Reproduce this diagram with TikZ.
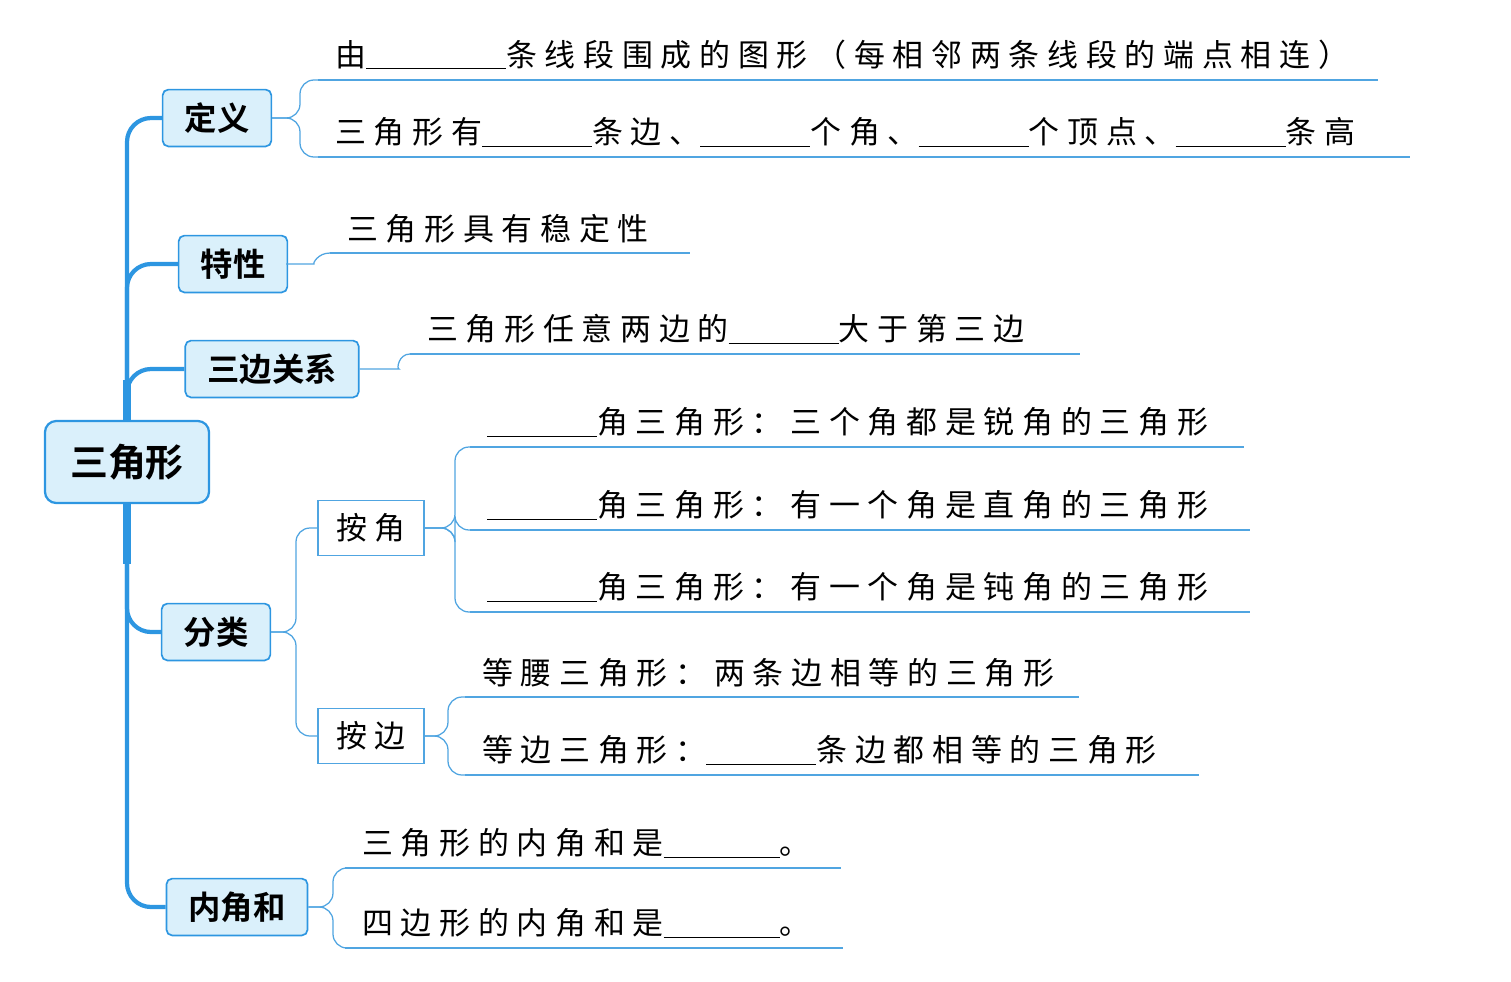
\documentclass[tikz,border=0pt]{standalone}
\usepackage{fontspec}
\newfontfamily\cjk[LetterSpace=25]{Noto Sans CJK SC}
\newfontfamily\cjkb{Noto Sans CJK SC Bold}
\usepackage{tikz}
\definecolor{mblue}{RGB}{45,150,225}
\definecolor{mfill}{RGB}{218,240,251}
\definecolor{lblue}{RGB}{80,165,225}
\newcommand{\blank}[1]{\underline{\hspace{#1}}}
\tikzset{
  root/.style={draw=mblue,fill=mfill,line width=1.6pt,rounded corners=8pt,
    minimum width=4.1cm,minimum height=2.05cm,font=\fontsize{27}{30}\cjkb},
  branch/.style={draw=mblue,fill=mfill,line width=1.2pt,rounded corners=4pt,
    minimum height=1.42cm,inner xsep=0.55cm,font=\fontsize{23}{26}\cjkb},
  sub/.style={draw=lblue,fill=white,line width=0.8pt,
    minimum width=2.65cm,minimum height=1.38cm,font=\fontsize{22}{26}\cjk},
  leaf/.style={anchor=south west,inner xsep=0.42cm,inner ysep=0.25cm,
    align=left,font=\fontsize{22}{26}\cjk},
  trunk/.style={mblue,line width=3pt,rounded corners=0.6cm},
  conn/.style={lblue,line width=0.9pt,rounded corners=0.35cm},
  uline/.style={lblue,line width=0.9pt}
}
\begin{document}
\begin{tikzpicture}[x=0.025cm,y=-0.025cm]
  \useasboundingbox (0,0) rectangle (1511,981);
  % main nodes
  \node[root] (tri) at (127,462) {三角形};
  \node[branch] (def) at (217,118) {定义};
  \node[branch] (prop) at (233,264) {特性};
  \node[branch] (side) at (272,369) {三边关系};
  \node[branch] (cls) at (216,632) {分类};
  \node[branch] (sum) at (237,907) {内角和};
  \node[sub] (byang) at (371,528) {按角};
  \node[sub] (byside) at (371,736) {按边};
  % leaves
  \node[leaf,text width=25.65cm] (d1) at (318,80) {由\blank{3.5cm}条线段围成的图形（每相邻两条线段的端点相连）};
  \node[leaf,text width=26.45cm] (d2) at (318,157) {三角形有\blank{2.75cm}条边、\blank{2.75cm}个角、\blank{2.75cm}个顶点、\blank{2.75cm}条高};
  \node[leaf,text width=8.15cm] (t1) at (330,253) {三角形具有稳定性};
  \node[leaf,text width=15.9cm] (s1) at (410,354) {三角形任意两边的\blank{2.75cm}大于第三边};
  \node[leaf,text width=18.5cm] (a1) at (470,447) {\blank{2.75cm}角三角形：三个角都是锐角的三角形};
  \node[leaf,text width=18.65cm] (a2) at (470,530) {\blank{2.75cm}角三角形：有一个角是直角的三角形};
  \node[leaf,text width=18.65cm] (a3) at (470,612) {\blank{2.75cm}角三角形：有一个角是钝角的三角形};
  \node[leaf,text width=14.5cm] (b1) at (465,697) {等腰三角形：两条边相等的三角形};
  \node[leaf,text width=17.5cm] (b2) at (465,775) {等边三角形：\blank{2.75cm}条边都相等的三角形};
  \node[leaf,text width=11.55cm] (n1) at (345,868) {三角形的内角和是\blank{2.9cm}。};
  \node[leaf,text width=11.6cm] (n2) at (345,948) {四边形的内角和是\blank{2.9cm}。};
  % underlines
  \foreach \l in {d1,d2,t1,s1,a1,a2,a3,b1,b2,n1,n2}
    \draw[uline] (\l.south west) -- (\l.south east);
  % trunk
  \draw[trunk] (tri.north) |- (def.west);
  \draw[trunk] (tri.north) |- (prop.west);
  \draw[trunk] (tri.north) |- (side.west);
  \draw[trunk] (tri.south) |- (cls.west);
  \draw[trunk] (tri.south) |- (sum.west);
  \draw[mblue,line width=6pt] (tri.north) -- ++(0,-40);
  \draw[mblue,line width=6pt] (tri.south) -- ++(0,60);
  % forks
  \coordinate (fd) at (300,118);
  \coordinate (ft) at (300,264);
  \coordinate (fs) at (385,369);
  \coordinate (fc) at (296,632);
  \coordinate (fa) at (455,528);
  \coordinate (fb) at (448,736);
  \coordinate (fn) at (333,907);
  \draw[conn] (def.east) -- (fd) |- (d1.south west);
  \draw[conn] (def.east) -- (fd) |- (d2.south west);
  \draw[conn] (prop.east) -- (ft) to[out=0,in=180] (t1.south west);
  \draw[conn] (side.east) -- (fs) to[out=0,in=180] (s1.south west);
  \draw[conn] (cls.east) -- (fc) |- (byang.west);
  \draw[conn] (cls.east) -- (fc) |- (byside.west);
  \foreach \l in {a1,a2,a3}
    \draw[conn] (byang.east) -- (fa) |- (\l.south west);
  \foreach \l in {b1,b2}
    \draw[conn] (byside.east) -- (fb) |- (\l.south west);
  \draw[conn] (sum.east) -- (fn) |- (n1.south west);
  \draw[conn] (sum.east) -- (fn) |- (n2.south west);
\end{tikzpicture}
\end{document}
